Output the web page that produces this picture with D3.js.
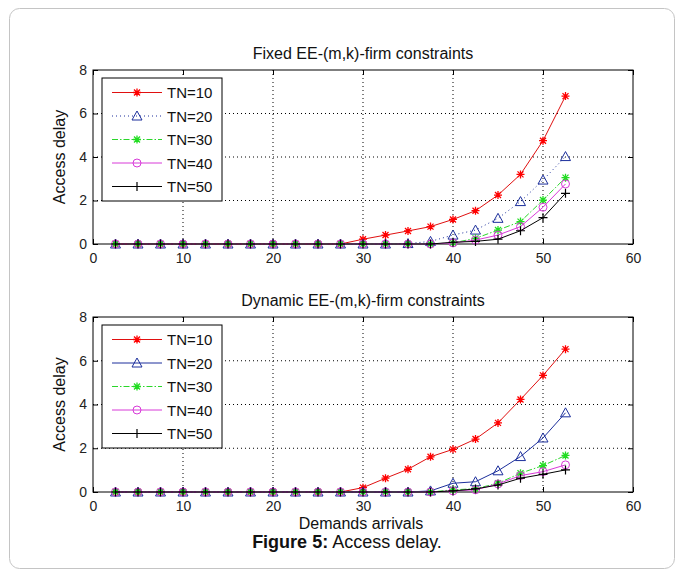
<!DOCTYPE html>
<html>
<head>
<meta charset="utf-8">
<script src="https://cdn.jsdelivr.net/npm/d3@7"></script>
<style>
  body { margin: 0; background: #fff; }
  svg { display: block; font-family: "Liberation Sans", Arial, sans-serif; }
</style>
</head>
<body>
<div id="chart"></div>
<script>
// demand arrivals on the x axis
const arrivals = [2.5, 5, 7.5, 10, 12.5, 15, 17.5, 20, 22.5, 25, 27.5, 30, 32.5, 35, 37.5, 40, 42.5, 45, 47.5, 50, 52.5];
const seriesNames = ["TN=10", "TN=20", "TN=30", "TN=40", "TN=50"];
const xTicks = [0, 10, 20, 30, 40, 50, 60];
const yTicks = [0, 2, 4, 6, 8];

// Fixed EE-(m,k)-firm constraints
const fixedTN10 = [0, 0, 0, 0, 0, 0, 0, 0, 0, 0, 0, 0.22, 0.41, 0.60, 0.80, 1.13, 1.53, 2.25, 3.20, 4.75, 6.80];
const fixedTN20 = [0, 0, 0, 0, 0, 0, 0, 0, 0, 0, 0, 0, 0, 0.02, 0.12, 0.41, 0.64, 1.18, 1.95, 2.94, 4.02];
const fixedTN30 = [0, 0, 0, 0, 0, 0, 0, 0, 0, 0, 0, 0, 0, 0, 0, 0.05, 0.26, 0.64, 1.03, 2.02, 3.05];
const fixedTN40 = [0, 0, 0, 0, 0, 0, 0, 0, 0, 0, 0, 0, 0, 0, 0, 0.05, 0.18, 0.41, 0.80, 1.69, 2.76];
const fixedTN50 = [0, 0, 0, 0, 0, 0, 0, 0, 0, 0, 0, 0, 0, 0, 0, 0.08, 0.12, 0.22, 0.61, 1.21, 2.33];

// Dynamic EE-(m,k)-firm constraints
const dynTN10 = [0, 0, 0, 0, 0, 0, 0, 0, 0, 0, 0, 0.20, 0.63, 1.04, 1.61, 1.95, 2.42, 3.16, 4.23, 5.33, 6.53];
const dynTN20 = [0, 0, 0, 0, 0, 0, 0, 0, 0, 0, 0, 0, 0, 0, 0.05, 0.40, 0.47, 0.97, 1.62, 2.47, 3.62];
const dynTN30 = [0, 0, 0, 0, 0, 0, 0, 0, 0, 0, 0, 0, 0, 0, 0, 0.10, 0.15, 0.40, 0.86, 1.21, 1.67];
const dynTN40 = [0, 0, 0, 0, 0, 0, 0, 0, 0, 0, 0, 0, 0, 0, 0, 0.05, 0.10, 0.37, 0.75, 0.93, 1.24];
const dynTN50 = [0, 0, 0, 0, 0, 0, 0, 0, 0, 0, 0, 0, 0, 0, 0, 0.05, 0.14, 0.32, 0.63, 0.81, 1.01];

const w = 683, h = 577;

const svg = d3.select("#chart").append("svg")
  .attr("width", w)
  .attr("height", h);

svg.append("rect").attr("width", w).attr("height", h).attr("fill", "#fff");

// figure frame
svg.append("rect")
  .attr("x", 9.5).attr("y", 8.5)
  .attr("width", 665).attr("height", 560)
  .attr("rx", 10)
  .attr("fill", "none")
  .attr("stroke", "#c4c4c4");

const xScale = d3.scaleLinear().domain([0, 60]).range([93, 633]);

// marker styles per series
const styles = [
  { line: "#e01010", marker: "#ff0000", shape: "star" },
  { line: "#1c2f9c", marker: "#1c2f9c", shape: "tri" },
  { line: "#2ad62a", marker: "#22dd22", shape: "star" },
  { line: "#d83ad8", marker: "#d83ad8", shape: "circle" },
  { line: "#000000", marker: "#000000", shape: "plus" }
];

function drawMarker(g, shape, x, y, color) {
  if (shape === "star") {
    const s = 4;
    g.append("path")
      .attr("d", `M${x - s},${y}H${x + s}M${x},${y - s}V${y + s}M${x - 3},${y - 3}L${x + 3},${y + 3}M${x - 3},${y + 3}L${x + 3},${y - 3}`)
      .attr("stroke", color).attr("stroke-width", 1.3).attr("fill", "none");
  } else if (shape === "tri") {
    g.append("path")
      .attr("d", `M${x},${y - 5}L${x + 5},${y + 4}L${x - 5},${y + 4}Z`)
      .attr("stroke", color).attr("stroke-width", 1).attr("fill", "none");
  } else if (shape === "circle") {
    g.append("circle")
      .attr("cx", x).attr("cy", y).attr("r", 4)
      .attr("stroke", color).attr("stroke-width", 1).attr("fill", "none");
  } else {
    const s = 4.5;
    g.append("path")
      .attr("d", `M${x - s},${y}H${x + s}M${x},${y - s}V${y + s}`)
      .attr("stroke", color).attr("stroke-width", 1.2).attr("fill", "none");
  }
}

function drawPanel(top, bottom, title, series, dashes, xlabel) {
  const yScale = d3.scaleLinear().domain([0, 8]).range([bottom, top]);
  const g = svg.append("g");

  // dotted grid
  g.selectAll(".gx")
    .data(xTicks.slice(1, -1))
    .enter().append("line")
    .attr("x1", d => xScale(d)).attr("x2", d => xScale(d))
    .attr("y1", top).attr("y2", bottom)
    .attr("stroke", "#000").attr("stroke-dasharray", "1,3");
  g.selectAll(".gy")
    .data(yTicks.slice(1, -1))
    .enter().append("line")
    .attr("x1", xScale(0)).attr("x2", xScale(60))
    .attr("y1", d => yScale(d)).attr("y2", d => yScale(d))
    .attr("stroke", "#000").attr("stroke-dasharray", "1,3");

  // axes with inward ticks
  const xAxis = d3.axisBottom(xScale).tickValues(xTicks).tickSizeInner(-5).tickSizeOuter(0).tickPadding(9);
  const yAxis = d3.axisLeft(yScale).tickValues(yTicks).tickSizeInner(-5).tickSizeOuter(0).tickPadding(6);
  g.append("g").attr("transform", `translate(0,${bottom})`).call(xAxis);
  g.append("g").attr("transform", `translate(${xScale(0)},0)`).call(yAxis);
  g.append("g").attr("transform", `translate(0,${top})`)
    .call(d3.axisTop(xScale).tickValues(xTicks).tickSizeInner(-5).tickSizeOuter(0).tickFormat(""));
  g.append("g").attr("transform", `translate(${xScale(60)},0)`)
    .call(d3.axisRight(yScale).tickValues(yTicks).tickSizeInner(-5).tickSizeOuter(0).tickFormat(""));
  g.selectAll(".domain").remove();
  g.selectAll(".tick text").attr("font-size", 14).attr("fill", "#222")
    .attr("font-family", "'Liberation Sans', Arial, sans-serif");
  g.selectAll(".tick line").attr("stroke", "#000");

  g.append("rect")
    .attr("x", xScale(0)).attr("y", top)
    .attr("width", xScale(60) - xScale(0)).attr("height", bottom - top)
    .attr("fill", "none").attr("stroke", "#000");

  g.append("text")
    .attr("x", (xScale(0) + xScale(60)) / 2).attr("y", top - 11)
    .attr("text-anchor", "middle").attr("font-size", 16).attr("fill", "#111")
    .text(title);

  g.append("text")
    .attr("transform", `translate(65,${(top + bottom) / 2}) rotate(-90)`)
    .attr("text-anchor", "middle").attr("font-size", 16).attr("fill", "#111")
    .text("Access delay");

  if (xlabel) {
    g.append("text")
      .attr("x", 361).attr("y", bottom + 37)
      .attr("text-anchor", "middle").attr("font-size", 16).attr("fill", "#111")
      .text(xlabel);
  }

  // series
  const line = d3.line().x((d, i) => xScale(arrivals[i])).y(d => yScale(d));
  series.forEach((vals, k) => {
    const st = styles[k];
    g.append("path")
      .attr("d", line(vals))
      .attr("fill", "none")
      .attr("stroke", st.line)
      .attr("stroke-width", 1)
      .attr("stroke-dasharray", dashes[k] || null);
    vals.forEach((v, i) => drawMarker(g, st.shape, xScale(arrivals[i]), yScale(v), st.marker));
  });

  // legend
  const lx = 102, ly = top + 8;
  const lg = g.append("g");
  lg.append("rect")
    .attr("x", lx).attr("y", ly).attr("width", 120).attr("height", 123)
    .attr("fill", "#fff").attr("stroke", "#000");
  seriesNames.forEach((name, k) => {
    const st = styles[k];
    const yy = ly + 14.5 + k * 23.5;
    lg.append("line")
      .attr("x1", lx + 10).attr("x2", lx + 60)
      .attr("y1", yy).attr("y2", yy)
      .attr("stroke", st.line).attr("stroke-dasharray", dashes[k] || null);
    drawMarker(lg, st.shape, lx + 35, yy, st.marker);
    lg.append("text")
      .attr("x", lx + 65).attr("y", yy + 5.5)
      .attr("font-size", 15).attr("fill", "#111")
      .text(name);
  });
}

drawPanel(70, 244, "Fixed EE-(m,k)-firm constraints",
  [fixedTN10, fixedTN20, fixedTN30, fixedTN40, fixedTN50],
  [null, "1,3", "6,2,1.5,2", null, null], null);

drawPanel(317, 492, "Dynamic EE-(m,k)-firm constraints",
  [dynTN10, dynTN20, dynTN30, dynTN40, dynTN50],
  [null, null, "6,2,1.5,2", null, null], "Demands arrivals");

// caption
const cap = svg.append("text")
  .attr("x", 347).attr("y", 548)
  .attr("text-anchor", "middle")
  .attr("font-size", 18).attr("fill", "#111");
cap.append("tspan").attr("font-weight", "bold").text("Figure 5:");
cap.append("tspan").text(" Access delay.");
</script>
</body>
</html>
